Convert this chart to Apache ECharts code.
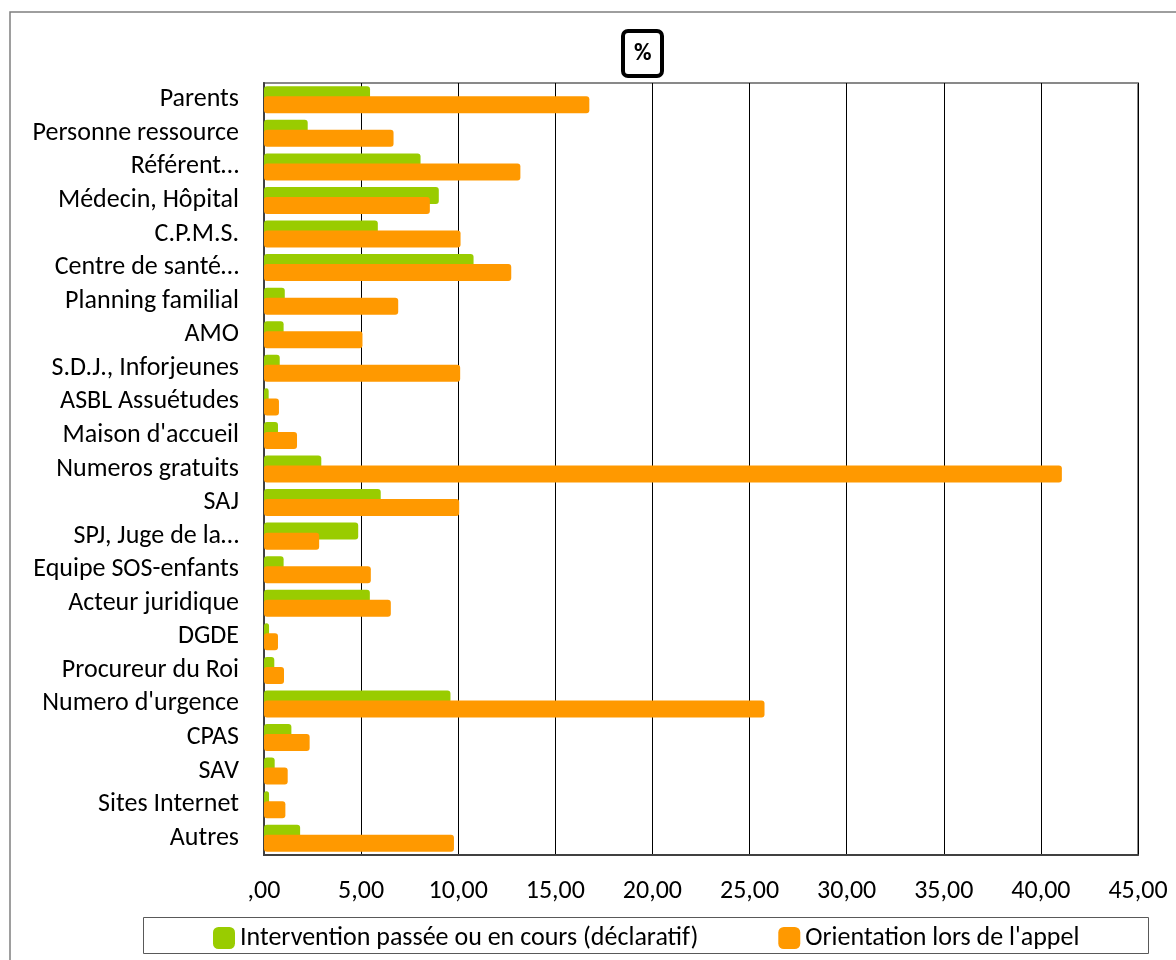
<!DOCTYPE html>
<html><head><meta charset="utf-8">
<script src="https://cdn.jsdelivr.net/npm/echarts@6/dist/echarts.min.js"></script>
<style>html,body{margin:0;padding:0;background:#fff}#c{width:1176px;height:960px}</style>
</head><body><div id="c"></div>
<script>
const categories = ["Parents","Personne ressource","Référent…","Médecin, Hôpital","C.P.M.S.","Centre de santé…","Planning familial","AMO","S.D.J., Inforjeunes","ASBL Assuétudes","Maison d'accueil","Numeros gratuits","SAJ","SPJ, Juge de la…","Equipe SOS-enfants","Acteur juridique","DGDE","Procureur du Roi","Numero d'urgence","CPAS","SAV","Sites Internet","Autres"];
const interventionValues = [5.46,2.25,8.06,9.00,5.86,10.79,1.07,1.01,0.81,0.24,0.72,2.95,6.01,4.85,1.01,5.45,0.26,0.53,9.60,1.41,0.55,0.26,1.86];
const orientationValues = [16.75,6.67,13.20,8.54,10.12,12.73,6.91,5.07,10.10,0.77,1.70,41.08,10.05,2.84,5.50,6.53,0.72,1.03,25.77,2.35,1.22,1.10,9.78];
const xTickLabels = [",00","5,00","10,00","15,00","20,00","25,00","30,00","35,00","40,00","45,00"];
const seriesNames = ["Intervention passée ou en cours (déclaratif)","Orientation lors de l'appel"];

const FONT = "Carlito, 'Liberation Sans', sans-serif";
const FS = 26;
const chart = echarts.init(document.getElementById('c'), null, {renderer:'canvas'});
chart.setOption({
  animation:false,
  backgroundColor:'#fff',
  textStyle:{fontFamily:FONT},
  title:{text:'%', left:623, top:31, padding:[10,11,9,11], borderWidth:4, borderColor:'#000', borderRadius:5,
    textStyle:{fontSize:24, fontWeight:'bold', color:'#000', fontFamily:FONT, lineHeight:26}},
  graphic:[
    {type:'rect', shape:{x:10,y:12,width:1180,height:960}, style:{fill:null, stroke:'#7f7f7f', lineWidth:1.5}, z:-10},
    {type:'rect', shape:{x:143.5,y:917.5,width:1005,height:36}, style:{fill:null, stroke:'#595959', lineWidth:1}}
  ],
  legend:{left:213, top:925, padding:0, itemGap:80, itemWidth:22, itemHeight:22, icon:'roundRect',
    textStyle:{fontSize:FS, color:'#000', fontFamily:FONT}, data:seriesNames},
  grid:{left:264, top:83, right:38, bottom:105, show:true, borderColor:'#898989', borderWidth:2, backgroundColor:'transparent'},
  xAxis:{type:'value', min:0, max:45, interval:5,
    axisLine:{show:true, lineStyle:{color:'#404040', width:2}},
    axisTick:{show:false},
    splitLine:{show:true, lineStyle:{color:'#000', width:1}},
    axisLabel:{margin:23, fontSize:FS, color:'#000', fontFamily:FONT, formatter:(v)=>xTickLabels[Math.round(v/5)]}},
  yAxis:{type:'category', inverse:true, data:categories,
    axisLine:{show:true, lineStyle:{color:'#404040', width:2}},
    axisTick:{show:false},
    axisLabel:{interval:0, margin:25, fontSize:FS, color:'#000', fontFamily:FONT}},
  series:[
    {name:seriesNames[0], type:'bar', data:interventionValues, barWidth:17, barGap:'-41%',
      itemStyle:{color:'#99CC00', borderRadius:3}},
    {name:seriesNames[1], type:'bar', data:orientationValues, barWidth:17, barGap:'-41%',
      itemStyle:{color:'#FF9900', borderRadius:3}}
  ]
});
</script></body></html>
